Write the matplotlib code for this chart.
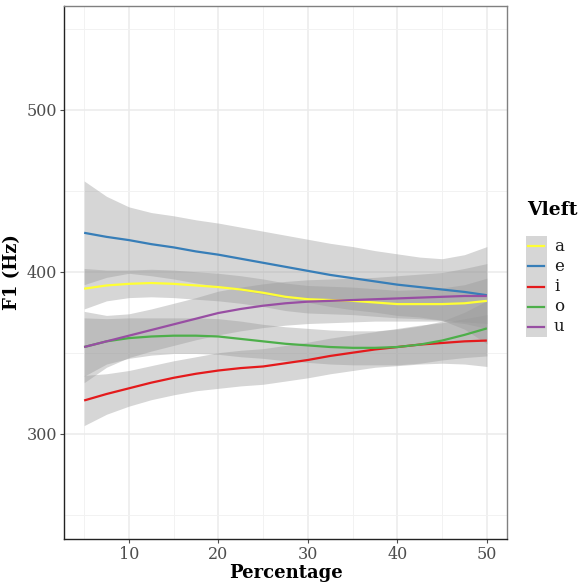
import numpy as np
import matplotlib
matplotlib.use("Agg")
import matplotlib.pyplot as plt
from matplotlib.patches import Rectangle
from matplotlib.lines import Line2D

# smoothed F1 trajectories (loess fit) per left vowel, with half-width of the CI
percentage = [5, 7.5, 10, 12.5, 15, 17.5, 20, 22.5, 25, 27.5,
              30, 32.5, 35, 37.5, 40, 42.5, 45, 47.5, 50]

fit_a = [389.5, 391.5, 392.5, 393, 392.5, 391.5, 390.5, 389, 387, 384.5,
         383, 382.5, 382, 381, 380, 380, 380, 380.5, 382]
se_a = [12.5, 9.5, 8.5, 8.5, 8.5, 8.5, 8.5, 8.5, 8.5, 8.5,
        8.5, 8.5, 8.5, 8.5, 8.5, 9, 10, 11.5, 14]

fit_e = [424, 421.5, 419.5, 417, 415, 412.5, 410.5, 408, 405.5, 403,
         400.5, 398, 396, 394, 392, 390.5, 389, 387.5, 385.5]
se_e = [32, 25, 20.5, 19.5, 19.5, 19.5, 19.5, 19.5, 19.5, 19.5,
        19.5, 19.5, 19.5, 19, 19, 18.5, 19, 23, 30]

fit_i = [320.5, 324.5, 328, 331.5, 334.5, 337, 339, 340.5, 341.5, 343.5,
         345.5, 348, 350, 352, 353.5, 355, 356, 357, 357.5]
se_i = [15.5, 12.5, 11, 10.5, 10.5, 10.5, 11, 11, 11, 11,
        11, 11, 11, 11, 11.5, 12, 12.5, 14, 16]

fit_o = [353.5, 357, 359, 360, 360.5, 360.5, 360, 358.5, 357, 355.5,
         354.5, 353.5, 353, 353, 353.5, 355, 357.5, 361, 365]
se_o = [18, 14, 12.5, 11.5, 11, 11, 11, 11, 10.5, 10.5,
        10.5, 10.5, 10.5, 10.5, 11, 11.5, 12, 14, 17]

fit_u = [353.5, 357, 360.5, 364, 367.5, 371, 374.5, 377, 379, 380.5,
         381.5, 382, 382.5, 383, 383.5, 384, 384.5, 385, 385]
se_u = [22, 16, 13.5, 13, 13, 13, 13.5, 13.5, 13.5, 13.5,
        13.5, 13.5, 13.5, 13.5, 14, 14.5, 15, 17, 20]

vowels = ["a", "e", "i", "o", "u"]
fits = [fit_a, fit_e, fit_i, fit_o, fit_u]
ses = [se_a, se_e, se_i, se_o, se_u]
colors = ["#FFFF33", "#377EB8", "#E41A1C", "#4DAF4A", "#984EA3"]

plt.rcParams["font.family"] = ["DejaVu Serif"]

fig = plt.figure(figsize=(5.8, 5.83), dpi=100)
ax = fig.add_axes([64 / 580, 1 - 539 / 583, 443 / 580, 533 / 583])

x = np.array(percentage)
for fit, se in zip(fits, ses):
    fit = np.array(fit)
    se = np.array(se)
    ax.fill_between(x, fit - se, fit + se, color="#999999", alpha=0.4,
                    linewidth=0, zorder=2)
for fit, col in zip(fits, colors):
    ax.plot(x, fit, color=col, lw=1.6, zorder=3, solid_capstyle="butt")

ax.set_xlim(2.75, 52.25)
ax.set_ylim(235, 564)
ax.set_xticks([10, 20, 30, 40, 50])
ax.set_yticks([300, 400, 500])
ax.set_xticks([5, 15, 25, 35, 45], minor=True)
ax.set_yticks([250, 350, 450, 550], minor=True)
ax.grid(which="major", color="#EBEBEB", lw=1.1, zorder=0)
ax.grid(which="minor", color="#F2F2F2", lw=0.7, zorder=0)
ax.set_axisbelow(True)

ax.tick_params(which="major", length=3, width=0.8, color="#4D4D4D",
               labelcolor="#4D4D4D", labelsize=11.5, pad=2)
ax.tick_params(which="minor", length=0)

for side in ["left", "bottom"]:
    ax.spines[side].set_color("#222222")
    ax.spines[side].set_linewidth(1.0)
for side in ["top", "right"]:
    ax.spines[side].set_color("#808080")
    ax.spines[side].set_linewidth(1.0)

ax.set_xlabel("Percentage", fontsize=13, fontweight="bold", labelpad=0.5)
ax.set_ylabel("F1 (Hz)", fontsize=13, fontweight="bold", labelpad=4)

# legend drawn by hand: grey key column with coloured strokes
fig.text(527 / 580, 1 - 210 / 583, "Vleft", fontsize=13.5, fontweight="bold",
         ha="left", va="center")
key_top, key_h = 236, 20.2
fig.patches.append(Rectangle((526 / 580, 1 - (key_top + key_h * 5) / 583),
                             21 / 580, key_h * 5 / 583,
                             transform=fig.transFigure, color="#D6D6D6",
                             lw=0))
for k, (v, col) in enumerate(zip(vowels, colors)):
    yc = 1 - (key_top + key_h * (k + 0.5)) / 583
    fig.lines.append(Line2D([528 / 580, 544 / 580], [yc, yc],
                            transform=fig.transFigure, color=col, lw=1.6))
    fig.text(554 / 580, yc, v, fontsize=12, ha="left", va="center",
             color="#1A1A1A")

fig.savefig("out.png", dpi=100)
